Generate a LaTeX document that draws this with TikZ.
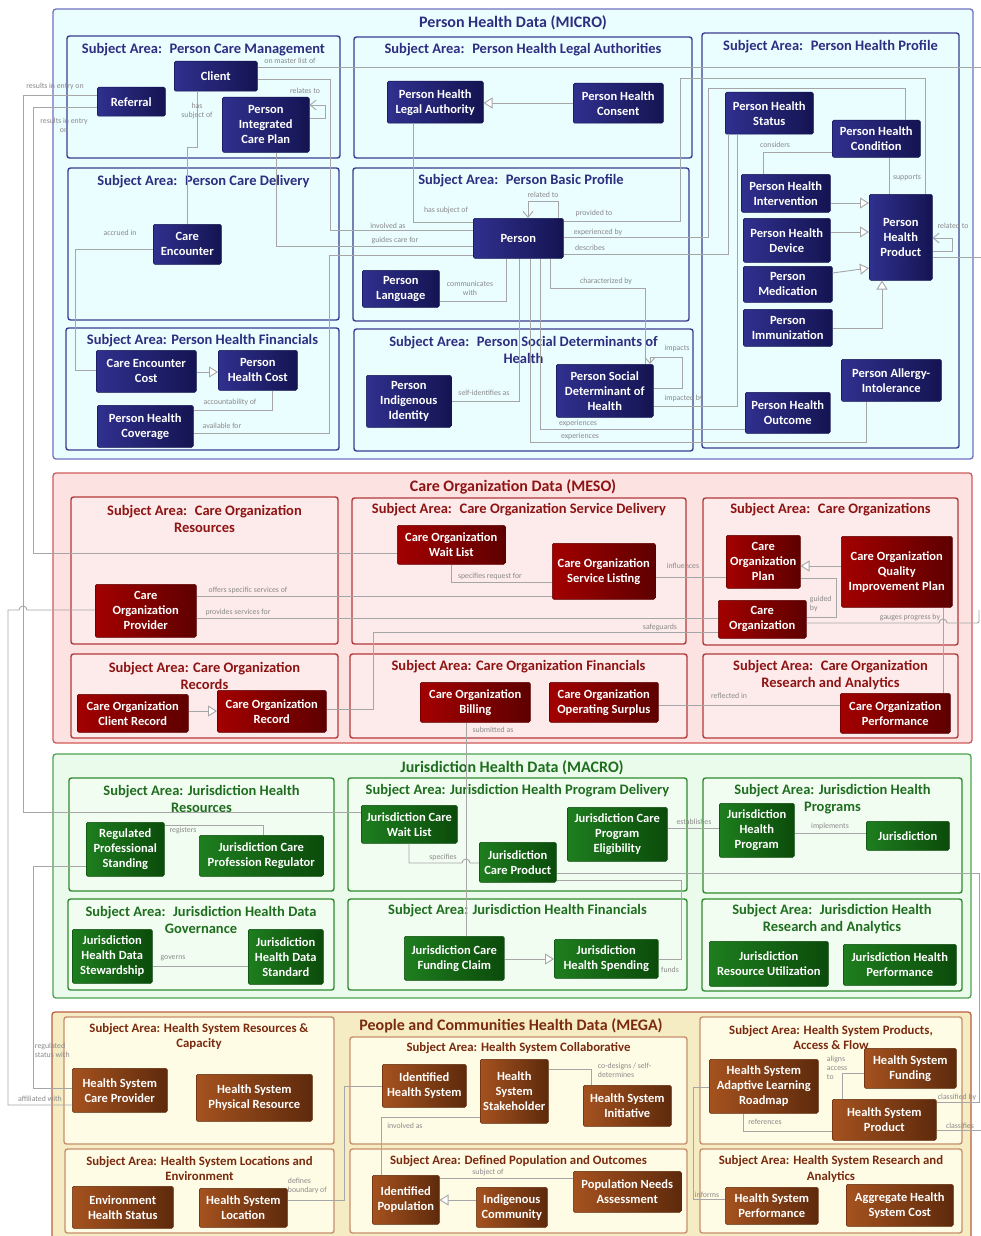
\documentclass[tikz,border=0pt]{standalone}
\usepackage{fontspec}
\setmainfont{Carlito}
\usetikzlibrary{arrows.meta}

% palette
\definecolor{linegray}{HTML}{A6A6A6}
\definecolor{lblgray}{HTML}{8A8A8A}
\definecolor{mOutFill}{HTML}{EAFDFF}
\definecolor{mOutDraw}{HTML}{7070C0}
\definecolor{mSADraw}{HTML}{3C3C90}
\definecolor{mTitle}{HTML}{2E2E80}
\definecolor{mA}{HTML}{30308F}
\definecolor{mB}{HTML}{141452}
\definecolor{rOutFill}{HTML}{FDE2E2}
\definecolor{rOutDraw}{HTML}{D05A5A}
\definecolor{rSAFill}{HTML}{FDEAEA}
\definecolor{rSADraw}{HTML}{B23A3A}
\definecolor{rTitle}{HTML}{8E1414}
\definecolor{rA}{HTML}{A30000}
\definecolor{rB}{HTML}{5E0000}
\definecolor{gOutFill}{HTML}{EBFBEB}
\definecolor{gOutDraw}{HTML}{4FA24F}
\definecolor{gSAFill}{HTML}{F2FDF2}
\definecolor{gSADraw}{HTML}{2F8A2F}
\definecolor{gTitle}{HTML}{1F6E1F}
\definecolor{gA}{HTML}{1E7E1E}
\definecolor{gB}{HTML}{0B4B0B}
\definecolor{yOutFill}{HTML}{F6ECC3}
\definecolor{yOutDraw}{HTML}{B9603E}
\definecolor{ySAFill}{HTML}{FFFCE5}
\definecolor{ySADraw}{HTML}{C88E6E}
\definecolor{yTitle}{HTML}{7A2A0E}
\definecolor{yA}{HTML}{A5521F}
\definecolor{yB}{HTML}{5E2A0C}

\newcommand\entfont{\fontsize{12.5}{15}\selectfont\bfseries}
\newcommand\satfont{\fontsize{14.5}{17}\selectfont\bfseries}
\newcommand\sasmall{\fontsize{12.8}{15.5}\selectfont\bfseries}
\newcommand\bigtitlefont{\fontsize{16}{18}\selectfont\bfseries}
\newcommand\lblfont{\fontsize{7.8}{9}\selectfont}

\begin{document}
\begin{tikzpicture}[x=1pt,y=-1pt,
  conn/.style={draw=linegray, line width=0.9pt},
  gen/.style={conn, -{Triangle[length=9pt,width=11pt,fill=white]}},
  nav/.style={conn, -{Straight Barb[length=6pt,width=10pt]}},
  lbl/.style={font=\lblfont, text=lblgray, inner sep=0.5pt, align=center},
  ent/.style={rounded corners=1.5pt, inner sep=0pt, align=center, text=white, font=\entfont, line width=0.5pt},
  bx/.style 2 args={anchor=north west, minimum width=#1pt, minimum height=#2pt},
  mic/.style={ent, left color=mA, right color=mB, draw=mB},
  mes/.style={ent, left color=rA, right color=rB, draw=rB},
  mac/.style={ent, left color=gA, right color=gB, draw=gB},
  meg/.style={ent, left color=yA, right color=yB, draw=yB},
  outer/.style={line width=1.3pt, rounded corners=3pt},
  sa/.style={line width=1.4pt, rounded corners=2.5pt},
  mOut/.style={outer, draw=mOutDraw, fill=mOutFill},
  mSA/.style={sa, draw=mSADraw, fill=mOutFill},
  rOut/.style={outer, draw=rOutDraw, fill=rOutFill},
  rSA/.style={sa, draw=rSADraw, fill=rSAFill},
  gOut/.style={outer, draw=gOutDraw, fill=gOutFill},
  gSA/.style={sa, draw=gSADraw, fill=gSAFill},
  yOut/.style={outer, draw=yOutDraw, fill=yOutFill},
  ySA/.style={sa, draw=ySADraw, fill=ySAFill},
  mT/.style={font=\satfont, text=mTitle, align=center, inner sep=0pt},
  rT/.style={font=\satfont, text=rTitle, align=center, inner sep=0pt},
  gT/.style={font=\satfont, text=gTitle, align=center, inner sep=0pt},
  yT/.style={font=\sasmall, text=yTitle, align=center, inner sep=0pt},
  bigT/.style={font=\bigtitlefont, inner sep=0pt},
]
\useasboundingbox (0,0) rectangle (981,1236);
\fill[white] (0,0) rectangle (981,1236);

% ---------------- MICRO ----------------
\draw[mOut] (53,9) rectangle (973,459);
\node[bigT, text=mTitle] (tmicro) at (513,23) {Person Health Data (MICRO)};
\draw[mSA] (67,36) rectangle (340,158);
\draw[mSA] (68,168) rectangle (339,320);
\draw[mSA] (66,328) rectangle (339,450);
\draw[mSA] (354,37) rectangle (692,158);
\draw[mSA] (353,168) rectangle (689,321);
\draw[mSA] (354,329) rectangle (693,451);
\draw[mSA] (702,33) rectangle (959,448);
\node[mT] (tpcm) at (203.5,50) {Subject Area:~ Person Care Management};
\node[mT] (tpcd) at (203.5,182) {Subject Area:~ Person Care Delivery};
\node[mT] (tphf) at (202.5,341) {Subject Area: Person Health Financials};
\node[mT] (tphla) at (523,50) {Subject Area:~ Person Health Legal Authorities};
\node[mT] (tpbp) at (521,181) {Subject Area:~ Person Basic Profile};
\node[mT] (tpsdh) at (523.5,350) {Subject Area:~ Person Social Determinants of\\Health};
\node[mT] (tphp) at (830.5,47) {Subject Area:~ Person Health Profile};

% ---------------- MESO ----------------
\draw[rOut] (53,473) rectangle (972,743);
\node[bigT, text=rTitle] (tmeso) at (513,487) {Care Organization Data (MESO)};
\draw[rSA] (71,497) rectangle (338,644);
\draw[rSA] (71,654) rectangle (338,738);
\draw[rSA] (352,498) rectangle (686,644);
\draw[rSA] (350,654) rectangle (687,738);
\draw[rSA] (703,498) rectangle (958,645);
\draw[rSA] (703,654) rectangle (958,738);
\node[rT] (tcor) at (204.5,518.5) {Subject Area:~ Care Organization\\Resources};
\node[rT] (tcorec) at (204.5,675.5) {Subject Area: Care Organization\\Records};
\node[rT] (tcosd) at (519,510) {Subject Area:~ Care Organization Service Delivery};
\node[rT] (tcofin) at (518.5,667) {Subject Area: Care Organization Financials};
\node[rT] (tcos) at (830.5,510) {Subject Area:~ Care Organizations};
\node[rT] (tcora) at (830.5,675.5) {Subject Area:~ Care Organization\\Research and Analytics};

% ---------------- MACRO ----------------
\draw[gOut] (53,754) rectangle (971,998);
\node[bigT, text=gTitle] (tmacro) at (512,768) {Jurisdiction Health Data (MACRO)};
\draw[gSA] (69,778) rectangle (334,891);
\draw[gSA] (68,899) rectangle (334,990);
\draw[gSA] (348,778) rectangle (687,891);
\draw[gSA] (348,899) rectangle (687,990);
\draw[gSA] (703,778) rectangle (962,893);
\draw[gSA] (702,899) rectangle (962,991);
\node[gT] (tjhr) at (201.5,799) {Subject Area: Jurisdiction Health\\Resources};
\node[gT] (tjhdg) at (201,919.5) {Subject Area:~ Jurisdiction Health Data\\Governance};
\node[gT] (tjhpd) at (517.5,791) {Subject Area: Jurisdiction Health Program Delivery};
\node[gT] (tjhf) at (517.5,911) {Subject Area: Jurisdiction Health Financials};
\node[gT] (tjhp) at (832.5,799.5) {Subject Area: Jurisdiction Health\\Programs};
\node[gT] (tjhra) at (832,919.5) {Subject Area:~ Jurisdiction Health\\Research and Analytics};

% ---------------- MEGA ----------------
\draw[yOut] (52,1012) rectangle (971,1250);
\node[bigT, text=yTitle] (tmega) at (511,1026) {People and Communities Health Data (MEGA)};
\draw[ySA] (64,1017) rectangle (334,1144);
\draw[ySA] (65,1149) rectangle (334,1233);
\draw[ySA] (350,1037) rectangle (687,1144);
\draw[ySA] (350,1149) rectangle (687,1233);
\draw[ySA] (700,1017) rectangle (962,1144);
\draw[ySA] (700,1149) rectangle (962,1233);
\node[yT] (thsrc) at (199,1036.5) {Subject Area: Health System Resources \&\\Capacity};
\node[yT] (thsle) at (199.5,1168.5) {Subject Area: Health System Locations and\\Environment};
\node[yT] (thsc) at (518.5,1048) {Subject Area: Health System Collaborative};
\node[yT] (tdpo) at (518.5,1161) {Subject Area: Defined Population and Outcomes};
\node[yT] (thspaf) at (831,1037.5) {Subject Area: Health System Products,\\Access \& Flow};
\node[yT] (thsra) at (831,1169) {Subject Area: Health System Research and\\Analytics};

% ---------------- entities ----------------
\node[mic, bx={83}{30}] (client) at (174,61) {Client};
\node[mic, bx={68}{29}] (referral) at (97,87) {Referral};
\node[mic, bx={87}{55}] (picp) at (222,97) {Person\\Integrated\\Care Plan};
\node[mic, bx={68}{40}] (careenc) at (153,224) {Care\\Encounter};
\node[mic, bx={100}{42}] (cecost) at (96,350) {Care Encounter\\Cost};
\node[mic, bx={79}{40}] (phcost) at (218,350) {Person\\Health Cost};
\node[mic, bx={96}{42}] (phcov) at (97,405) {Person Health\\Coverage};
\node[mic, bx={96}{42}] (phla) at (387,81) {Person Health\\Legal Authority};
\node[mic, bx={90}{40}] (phcons) at (573,83) {Person Health\\Consent};
\node[mic, bx={90}{40}] (person) at (473,218) {Person};
\node[mic, bx={77}{37}] (plang) at (362,270) {Person\\Language};
\node[mic, bx={85}{52}] (pii) at (366,375) {Person\\Indigenous\\Identity};
\node[mic, bx={97}{53}] (psdh) at (556,364) {Person Social\\Determinant of\\Health};
\node[mic, bx={88}{42}] (phstat) at (725,92) {Person Health\\Status};
\node[mic, bx={88}{37}] (phcond) at (832,120) {Person Health\\Condition};
\node[mic, bx={89}{38}] (phint) at (741,174) {Person Health\\Intervention};
\node[mic, bx={87}{44}] (phdev) at (743,218) {Person Health\\Device};
\node[mic, bx={89}{36}] (pmed) at (743,266) {Person\\Medication};
\node[mic, bx={89}{37}] (pimm) at (743,309) {Person\\Immunization};
\node[mic, bx={63}{86}] (phprod) at (869,194) {Person\\Health\\Product};
\node[mic, bx={100}{42}] (pallergy) at (841,359) {Person Allergy-\\Intolerance};
\node[mic, bx={85}{41}] (phout) at (745,392) {Person Health\\Outcome};

\node[mes, bx={108}{39}] (cowait) at (397,525) {Care Organization\\Wait List};
\node[mes, bx={103}{56}] (colist) at (552,543) {Care Organization\\Service Listing};
\node[mes, bx={101}{53}] (coprov) at (95,584) {Care\\Organization\\Provider};
\node[mes, bx={111}{38}] (coclient) at (77,694) {Care Organization\\Client Record};
\node[mes, bx={109}{42}] (corec) at (217,690) {Care Organization\\Record};
\node[mes, bx={110}{40}] (cobill) at (420,682) {Care Organization\\Billing};
\node[mes, bx={109}{40}] (cosurp) at (549,682) {Care Organization\\Operating Surplus};
\node[mes, bx={74}{53}] (coplan) at (726,535) {Care\\Organization\\Plan};
\node[mes, bx={111}{71}] (coqip) at (841,536) {Care Organization\\Quality\\Improvement Plan};
\node[mes, bx={88}{38}] (corg) at (718,600) {Care\\Organization};
\node[mes, bx={110}{40}] (coperf) at (840,693) {Care Organization\\Performance};

\node[mac, bx={78}{54}] (rps) at (86,822) {Regulated\\Professional\\Standing};
\node[mac, bx={124}{41}] (jcpr) at (199,835) {Jurisdiction Care\\Profession Regulator};
\node[mac, bx={80}{54}] (jhdsw) at (72,929) {Jurisdiction\\Health Data\\Stewardship};
\node[mac, bx={75}{55}] (jhdst) at (248,929) {Jurisdiction\\Health Data\\Standard};
\node[mac, bx={96}{38}] (jcwl) at (361,805) {Jurisdiction Care\\Wait List};
\node[mac, bx={77}{40}] (jcp) at (479,842) {Jurisdiction\\Care Product};
\node[mac, bx={100}{54}] (jcpe) at (567,807) {Jurisdiction Care\\Program\\Eligibility};
\node[mac, bx={100}{44}] (jcfc) at (404,936) {Jurisdiction Care\\Funding Claim};
\node[mac, bx={104}{39}] (jhsp) at (554,939) {Jurisdiction\\Health Spending};
\node[mac, bx={75}{54}] (jhp) at (719,803) {Jurisdiction\\Health\\Program};
\node[mac, bx={83}{29}] (jur) at (866,821) {Jurisdiction};
\node[mac, bx={119}{45}] (jru) at (709,941) {Jurisdiction\\Resource Utilization};
\node[mac, bx={113}{41}] (jhperf) at (843,944) {Jurisdiction Health\\Performance};

\node[meg, bx={95}{44}] (hscp) at (72,1068) {Health System\\Care Provider};
\node[meg, bx={116}{47}] (hspr) at (196,1074) {Health System\\Physical Resource};
\node[meg, bx={101}{42}] (ehs) at (72,1186) {Environment\\Health Status};
\node[meg, bx={88}{39}] (hsloc) at (199,1188) {Health System\\Location};
\node[meg, bx={84}{43}] (ihs) at (382,1064) {Identified\\Health System};
\node[meg, bx={68}{64}] (hsst) at (480,1059) {Health\\System\\Stakeholder};
\node[meg, bx={88}{41}] (hsinit) at (583,1085) {Health System\\Initiative};
\node[meg, bx={67}{49}] (ipop) at (372,1175) {Identified\\Population};
\node[meg, bx={71}{40}] (icom) at (476,1187) {Indigenous\\Community};
\node[meg, bx={108}{41}] (pna) at (573,1171) {Population Needs\\Assessment};
\node[meg, bx={109}{54}] (halr) at (709,1059) {Health System\\Adaptive Learning\\Roadmap};
\node[meg, bx={92}{40}] (hsfund) at (864,1048) {Health System\\Funding};
\node[meg, bx={104}{41}] (hsprod) at (832,1099) {Health System\\Product};
\node[meg, bx={93}{37}] (hsperf) at (725,1187) {Health System\\Performance};
\node[meg, bx={107}{42}] (ahsc) at (846,1184) {Aggregate Health\\System Cost};

% ---------------- connectors: person level ----------------
\draw[conn] (client.east |- 0,67) -- (981,67)
  node[lbl] at (290,61) {on master list of};
\draw[nav] (picp.east |- 0,118) -- (325,118) -- (325,105) -- (picp.east |- 0,105)
  node[lbl] at (305,91) {relates to};
\draw[conn] (client.east |- 0,79) -- (330,79) -- (330,230) -- (person.west |- 0,230)
  node[lbl] at (388,226) {involved as};
\draw[conn] (picp.south -| 276,0) -- (276,246) -- (person.west |- 0,246)
  node[lbl] at (395,240) {guides care for};
\draw[conn] (client.south -| 197,0) -- (197,147) -- (187,147) -- (careenc.north -| 187,0)
  node[lbl] at (197,111) {has\\subject of};
\draw[conn] (referral.west |- 0,95) -- (23,95) -- (23,812) -- (jcwl.west |- 0,812)
  node[lbl] at (55,86) {results in entry on};
\draw[conn] (referral.west |- 0,107) -- (33,107) -- (33,553) -- (cowait.west |- 0,553)
  node[lbl] at (64,125) {results in entry\\on};
\draw[conn] (careenc.west |- 0,249) -- (75,249) -- (75,370) -- (cecost.west |- 0,370)
  node[lbl] at (120,233) {accrued in};
\draw[gen] (cecost.east |- 0,372) -- (phcost.west |- 0,372);
\draw[conn] (phcost.south -| 272,0) -- (272,410) -- (phcov.east |- 0,410)
  node[lbl] at (230,402) {accountability of};
\draw[conn] (phcov.east |- 0,433) -- (329,433) -- (329,255) -- (person.west |- 0,255)
  node[lbl] at (222,426) {available for};
\draw[conn] (phla.south -| 413,0) -- (413,222) -- (person.west |- 0,222)
  node[lbl] at (446,210) {has subject of};
\draw[gen] (phcons.west |- 0,103) -- (phla.east |- 0,103);
\draw[nav] (person.north -| 558,0) -- (558,201) -- (528,201) -- (person.north -| 528,0)
  node[lbl] at (543,195) {related to};
\draw[conn] (person.east |- 0,221) -- (680,221) -- (680,78) -- (925,78) -- (phprod.north -| 925,0)
  node[lbl] at (594,213) {provided to};
\draw[conn] (person.east |- 0,237) -- (708,237) -- (708,88) -- (905,88) -- (phcond.north -| 905,0)
  node[lbl] at (598,232) {experienced by};
\draw[conn] (person.east |- 0,254) -- (728,254) -- (phstat.south -| 728,0)
  node[lbl] at (590,248) {describes};
\draw[conn] (phint.north -| 763,0) -- (763,152) -- (phcond.west |- 0,152)
  node[lbl] at (775,145) {considers};
\draw[conn] (phcond.south -| 889,0) -- (phprod.north -| 889,0)
  node[lbl] at (907,178) {supports};
\draw[gen] (phint.east |- 0,203) -- (phprod.west |- 0,203);
\draw[gen] (phdev.east |- 0,232) -- (phprod.west |- 0,232);
\draw[gen] (pmed.east |- 0,273) -- (phprod.west |- 0,268);
\draw[gen] (pimm.east |- 0,328) -- (882,328) -- (phprod.south -| 882,0);
\draw[nav] (phprod.east |- 0,251) -- (952,251) -- (952,238) -- (phprod.east |- 0,238)
  node[lbl] at (953,226) {related to};
\draw[conn] (phprod.east |- 0,257) -- (981,257);
\draw[conn] (person.south -| 550,0) -- (550,288) -- (645,288) -- (psdh.north -| 645,0)
  node[lbl] at (606,281) {characterized by};
\draw[nav] (psdh.east |- 0,388) -- (682,388) -- (682,357) -- (650,357) -- (psdh.north -| 650,0)
  node[lbl] at (677,348) {impacts};
\draw[conn] (phstat.south -| 737,0) -- (737,406) -- (psdh.east |- 0,406)
  node[lbl] at (684,398) {impacted by};
\draw[conn] (person.south -| 506,0) -- (506,301) -- (plang.east |- 0,301)
  node[lbl] at (470,288) {communicates\\with};
\draw[conn] (person.south -| 519,0) -- (519,401) -- (pii.east |- 0,401)
  node[lbl] at (484,393) {self-identifies as};
\draw[conn] (person.south -| 530,0) -- (530,442) -- (866,442) -- (pallergy.south -| 866,0)
  node[lbl] at (580,436) {experiences};
\draw[conn] (person.south -| 540,0) -- (540,429) -- (phout.west |- 0,429)
  node[lbl] at (578,423) {experiences};

% ---------------- connectors: care organization level ----------------
\draw[conn] (coprov.west |- 0,610) -- (27,610) arc[start angle=0, end angle=-180, radius=4] -- (8,610) -- (8,1105) -- (hscp.west |- 0,1105)
  node[lbl] at (40,1099) {affiliated with};
\draw[conn] (rps.west |- 0,866) -- (33,866) -- (33,1088) -- (hscp.west |- 0,1088)
  node[lbl, anchor=west, align=left] at (34,1050) {regulated\\status with};
\draw[conn] (coprov.east |- 0,596) -- (colist.west |- 0,596)
  node[lbl] at (248,590) {offers specific services of};
\draw[conn] (coprov.east |- 0,618) -- (corg.west |- 0,618)
  node[lbl] at (238,612) {provides services for};
\draw[conn] (corec.east |- 0,709) -- (373,709) -- (373,632) -- (corg.west |- 0,632)
  node[lbl] at (660,627) {safeguards};
\draw[conn] (cowait.south -| 451,0) -- (451,582) -- (colist.west |- 0,582)
  node[lbl] at (490,576) {specifies request for};
\draw[conn] (colist.east |- 0,577) -- (coplan.west |- 0,577)
  node[lbl] at (683,566) {influences};
\draw[gen] (coqip.west |- 0,566) -- (coplan.east |- 0,566);
\draw[conn] (coplan.east |- 0,578) -- (836,578) -- (836,617) -- (corg.east |- 0,617)
  node[lbl, anchor=west, align=left] at (809,604) {guided\\by};
\draw[conn] (coqip.south -| 943,0) -- (coperf.north -| 943,0);
\draw[conn] (corg.east |- 0,623) -- (939,623) arc[start angle=180, end angle=360, radius=4] -- (975,623) .. controls (979,623) .. (979,619) -- (979,610)
  node[lbl] at (910,617) {gauges progress by};
\draw[conn] (cobill.south -| 466,0) -- (jcfc.north -| 466,0)
  node[lbl] at (493,730) {submitted as};
\draw[gen] (coclient.east |- 0,711) -- (corec.west |- 0,711);
\draw[conn] (cosurp.east |- 0,705) -- (coperf.west |- 0,705)
  node[lbl] at (729,696) {reflected in};

% ---------------- connectors: jurisdiction level ----------------
\draw[conn] (rps.east |- 0,825) -- (263,825) -- (jcpr.north -| 263,0)
  node[lbl] at (183,830) {registers};
\draw[conn] (jcwl.south -| 409,0) -- (409,863) -- (462,863) arc[start angle=180, end angle=360, radius=4] -- (jcp.west |- 0,863)
  node[lbl] at (443,857) {specifies};
\draw[conn] (jcpe.east |- 0,828) -- (jhp.west |- 0,828)
  node[lbl] at (694,822) {establishes};
\draw[conn] (jhp.east |- 0,833) -- (jur.west |- 0,833)
  node[lbl] at (830,826) {implements};
\draw[conn] (jcp.east |- 0,873) -- (979,873) -- (979,1102) -- (hsprod.east |- 0,1102)
  node[lbl] at (957,1097) {classified by};
\draw[conn] (jhsp.east |- 0,959) -- (681,959) -- (681,880) -- (jcp.east |- 0,880)
  node[lbl] at (670,970) {funds};
\draw[gen] (jcfc.east |- 0,959) -- (jhsp.west |- 0,959);
\draw[conn] (jhdsw.east |- 0,966) -- (jhdst.west |- 0,966)
  node[lbl] at (173,958) {governs};

% ---------------- connectors: health system level ----------------
\draw[conn] (hsloc.east |- 0,1200) -- (344,1200) -- (344,1086) -- (ihs.west |- 0,1086)
  node[lbl, anchor=west, align=left] at (287,1186) {defines\\boundary of};
\draw[conn] (hsst.west |- 0,1117) -- (381,1117) -- (ipop.north -| 381,0)
  node[lbl] at (405,1126) {involved as};
\draw[conn] (hsst.east |- 0,1069) -- (591,1069) -- (hsinit.north -| 591,0)
  node[lbl, anchor=west, align=left] at (597,1070) {co-designs / self-\\determines};
\draw[conn] (ipop.east |- 0,1178) -- (pna.west |- 0,1178)
  node[lbl] at (488,1172) {subject of};
\draw[gen] (icom.west |- 0,1200) -- (ipop.east |- 0,1200);
\draw[conn] (halr.west |- 0,1087) -- (693,1087) -- (693,1199) -- (hsperf.west |- 0,1199)
  node[lbl] at (707,1195) {informs};
\draw[conn] (hsprod.north -| 842,0) -- (842,1073) -- (hsfund.west |- 0,1073)
  node[lbl, anchor=west, align=left] at (826,1068) {aligns\\access\\to};
\draw[conn] (halr.south -| 743,0) -- (743,1131) -- (hsprod.west |- 0,1131)
  node[lbl] at (765,1122) {references};
\draw[conn] (hsprod.east |- 0,1130) -- (981,1130)
  node[lbl] at (960,1126) {classifies};
\end{tikzpicture}
\end{document}
